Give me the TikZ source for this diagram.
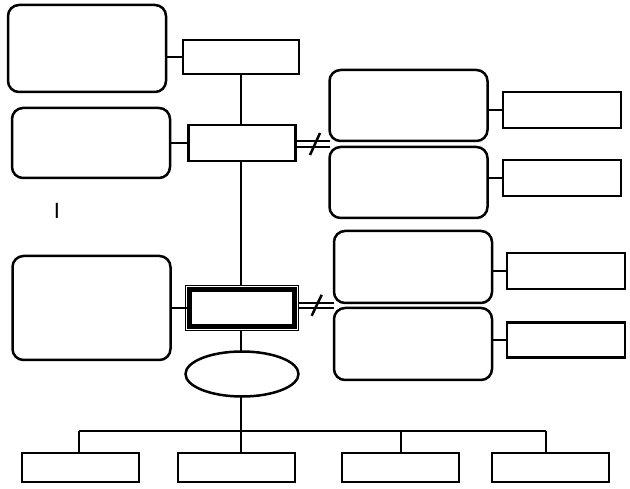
\documentclass[tikz,border=0pt]{standalone}
\usepackage{fontspec}
\newfontfamily\markfont{Liberation Sans}
\usetikzlibrary{shapes.geometric}
\begin{document}
\begin{tikzpicture}[x=1pt,y=-1pt,line width=2.5pt,
        rbox/.style={draw,rounded corners=11pt,inner sep=0pt,outer sep=0pt,minimum width=158pt},
        sbox/.style={draw,inner sep=0pt,outer sep=0pt,minimum width=117pt,minimum height=36pt},
        dbox/.style={draw,line width=4.5pt,inner sep=0pt,outer sep=0pt,minimum width=105pt,minimum height=37pt},
        oval/.style={draw,ellipse,inner sep=0pt,outer sep=0pt,minimum width=113pt,minimum height=45pt}]
        \useasboundingbox (0,0) rectangle (630,489);
        % Colonna sinistra
        \node[rbox,minimum height=87pt] (a1) at (87,48.5) {};
        \node[rbox,minimum height=70pt] (a2) at (91,143) {};
        \node[rbox,minimum height=104pt] (a3) at (91.5,308) {};
        \node[font=\markfont\fontsize{22}{22}\selectfont,inner sep=0pt] (mark) at (57,211) {I};
        % Colonna centrale
        \node[sbox,minimum width=116pt,minimum height=34pt] (r1) at (241,57) {};
        \node[sbox,minimum width=107pt] (r2) at (242,143) {};
        \node[dbox] (db) at (242,308) {};
        \draw[line width=1pt] ([shift={(-3.6,-3.6)}]db.north west) rectangle ([shift={(3.6,3.6)}]db.south east);
        \node[oval] (ov) at (242,374) {};
        % Colonna destra
        \node[rbox,minimum height=71pt] (b1) at (408.5,105.5) {};
        \node[rbox,minimum height=71pt] (b2) at (408.5,182.5) {};
        \node[rbox,minimum height=72pt] (b3) at (413,267) {};
        \node[rbox,minimum height=72pt] (b4) at (413,344) {};
        \node[sbox,minimum width=118pt] (c1) at (562,110) {};
        \node[sbox,minimum width=118pt] (c2) at (562,178) {};
        \node[sbox,minimum width=118pt] (c3) at (566,271) {};
        \node[sbox,minimum width=118pt,minimum height=35pt] (c4) at (566,340) {};
        % Riga in basso
        \node[sbox,minimum height=29pt] (d1) at (80.5,467.5) {};
        \node[sbox,minimum height=29pt] (d2) at (236.5,467.5) {};
        \node[sbox,minimum height=29pt] (d3) at (400.5,467.5) {};
        \node[sbox,minimum height=29pt] (d4) at (550.5,467.5) {};
        % Collegamenti
        \coordinate (bus) at (241,431);
        \draw (r1.west) -- (r1.west -| a1.east);
        \draw (a2.east) -- (r2.west);
        \draw (a3.east) -- (a3.east -| db.west);
        \draw (r1.south) -- (r1.south |- r2.north);
        \draw (r2.south -| bus) -- ([yshift=3.6pt]bus |- db.north);
        \draw ([yshift=-3.6pt]bus |- db.south) -- (bus |- ov.north);
        \draw (c1.west) -- (c1.west -| b1.east);
        \draw (c2.west) -- (c2.west -| b2.east);
        \draw (c3.west) -- (c3.west -| b3.east);
        \draw (c4.west) -- (c4.west -| b4.east);
        % Diverso
        \draw (r2.east |- b1.south west) -- (b1.south west);
        \draw (r2.east |- b2.north west) -- (b2.north west);
        \coordinate (neq1) at (315,144);
        \draw ([shift={(-5,11)}]neq1) -- ([shift={(5,-11)}]neq1);
        \draw ([xshift=4pt]db.east |- b3.south west) -- (b3.south west);
        \draw ([xshift=4pt]db.east |- b4.north west) -- (b4.north west);
        \coordinate (neq2) at (316.7,305.3);
        \draw ([shift={(-5,10.5)}]neq2) -- ([shift={(5,-10.5)}]neq2);
        % Albero in basso
        \coordinate (t1) at (79,431);
        \coordinate (t2) at (241,431);
        \coordinate (t3) at (401,431);
        \coordinate (t4) at (546,431);
        \draw (bus |- ov.south) -- (bus);
        \draw (t1) -- (t4);
        \foreach \i in {1,2,3,4}
            \draw (t\i) -- (t\i |- d\i.north);
    \end{tikzpicture}
\end{document}
